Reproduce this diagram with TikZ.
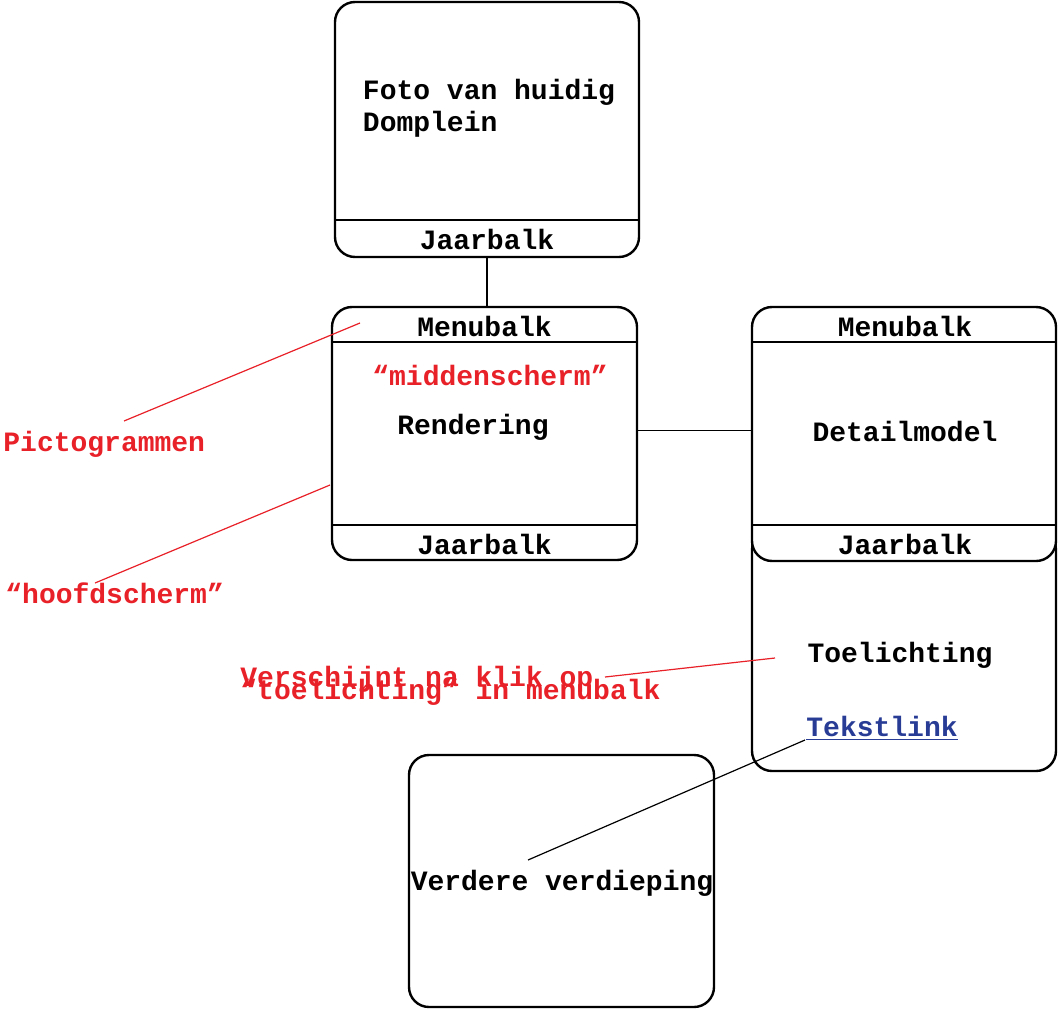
\documentclass[tikz,border=0pt]{standalone}
\usepackage{fontspec}
\setmonofont{Liberation Mono}
\usepackage{tikz}

\definecolor{notered}{RGB}{232,32,40}
\definecolor{linkblue}{RGB}{40,60,150}

\tikzset{
  screen/.style={draw, line width=1.2pt, rounded corners=10pt, fill=white, inner sep=0pt, outer sep=0pt},
  bar/.style={line width=0.6pt},
  label/.style={font=\ttfamily\bfseries\fontsize{14}{16}\selectfont, inner sep=0pt},
  note/.style={label, text=notered},
  noteline/.style={notered, line width=0.6pt},
  link/.style={line width=0.6pt}
}

\begin{document}
\begin{tikzpicture}[x=0.5pt,y=-0.5pt]
\useasboundingbox (0,0) rectangle (1059,1011);

% schermen
\node[screen, minimum width=152pt, minimum height=127.5pt] (foto) at (487,129.5) {};
\node[screen, minimum width=152.5pt, minimum height=126.5pt] (midden) at (484.5,433.5) {};
\node[screen, minimum width=152pt, minimum height=120.5pt] (toel) at (904,650.5) {};
\node[screen, minimum width=152pt, minimum height=127pt] (detail) at (904,434) {};
\node[screen, minimum width=152.5pt, minimum height=126pt] (verder) at (561.5,881) {};

% balken
\draw[bar] ([yshift=18.5pt]foto.south west) -- ([yshift=18.5pt]foto.south east);
\draw[bar] ([yshift=-17.5pt]midden.north west) -- ([yshift=-17.5pt]midden.north east);
\draw[bar] ([yshift=17.5pt]midden.south west) -- ([yshift=17.5pt]midden.south east);
\draw[bar] ([yshift=-17.5pt]detail.north west) -- ([yshift=-17.5pt]detail.north east);
\draw[bar] ([yshift=18pt]detail.south west) -- ([yshift=18pt]detail.south east);

% teksten
\node[label, align=left] (fototext) at (489,108) {Foto van huidig\\Domplein};
\node[label] (fotojaar) at (487,239) {Jaarbalk};
\node[label] (middenmenu) at (484.5,326) {Menubalk};
\node[note] (middennaam) at (490,375) {“middenscherm”};
\node[label] (render) at (473,427) {Rendering};
\node[label] (middenjaar) at (484.5,544) {Jaarbalk};
\node[label] (detailmenu) at (905,326) {Menubalk};
\node[label] (detailtext) at (905,431) {Detailmodel};
\node[label] (detailjaar) at (905,544) {Jaarbalk};
\node[label] (toeltext) at (900,655) {Toelichting};
\node[label, text=linkblue] (tekstlink) at (882,728) {\underline{Tekstlink}};
\node[label] (verdertext) at (562,883) {Verdere verdieping};

% notities
\node[note, anchor=west] (picto) at (3,444) {Pictogrammen};
\node[note, anchor=west] (hoofd) at (5,593) {“hoofdscherm”};
\node[note, align=left, anchor=west] (klik) at (240,686) {Verschijnt na klik op\\[-9.5pt]“toelichting” in menubalk};

\coordinate (picto end) at (124,421);
\coordinate (picto tip) at (360,323);
\coordinate (hoofd end) at (95,583);
\coordinate (hoofd tip) at (330,485);
\coordinate (klik end) at (605,677);
\coordinate (klik tip) at (775,658);
\coordinate (link start) at (805,740);
\coordinate (link tip) at (528,860);

% verbindingen
\draw[link] (foto.south) -- (foto.south |- midden.north);
\draw[link] ([yshift=1.5pt]midden.east) -- ([yshift=1.5pt]midden.east -| detail.west);
\draw[link] (link start) -- (link tip);
\draw[noteline] (picto end) -- (picto tip);
\draw[noteline] (hoofd end) -- (hoofd tip);
\draw[noteline] (klik end) -- (klik tip);
\end{tikzpicture}
\end{document}
